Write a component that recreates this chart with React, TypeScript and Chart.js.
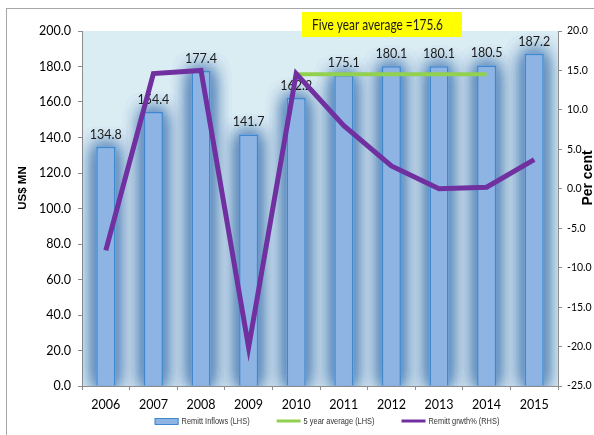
import React, { useEffect, useRef } from "react";
import { Chart, registerables } from "chart.js";

Chart.register(...registerables);

const years = ["2006", "2007", "2008", "2009", "2010", "2011", "2012", "2013", "2014", "2015"];
const remittInflows = [134.8, 154.4, 177.4, 141.7, 162.2, 175.1, 180.1, 180.1, 180.5, 187.2];
const fiveYearAverage = [null, null, null, null, 175.6, 175.6, 175.6, 175.6, 175.6, null];
const remittGrowth = [-7.8, 14.6, 15.0, -20.1, 14.6, 8.0, 2.9, 0.0, 0.2, 3.7];
const seriesNames = ["Remitt Inflows (LHS)", "5 year average (LHS)", "Remitt grwth% (RHS)"];
const leftTitle = "US$ MN";
const rightTitle = "Per cent";
const boxTitle = "Five year average =175.6";

const SANS = "'Liberation Sans', Arial, sans-serif";
const HUMAN = "Lato, 'Liberation Sans', sans-serif";

function fitText(ctx: any, text: string, x: number, y: number, targetW: number) {
  const w = ctx.measureText(text).width;
  const sx = Math.min(1, targetW / w);
  ctx.save();
  ctx.translate(x, y);
  ctx.scale(sx, 1);
  ctx.fillText(text, 0, 0);
  ctx.restore();
  return w * sx;
}

const decorPlugin = {
  id: "decor",
  beforeDraw(chart: any) {
    const { ctx, chartArea: a } = chart;
    ctx.save();
    ctx.fillStyle = "#DAEDF3";
    ctx.fillRect(a.left, a.top, a.right - a.left, a.bottom - a.top);
    ctx.restore();
  },
  beforeDatasetsDraw(chart: any) {
    const { ctx, chartArea: a } = chart;
    const meta = chart.getDatasetMeta(0);
    ctx.save();
    ctx.beginPath();
    ctx.rect(a.left, a.top, a.right - a.left, a.bottom - a.top);
    ctx.clip();
    ctx.shadowColor = "rgba(95,140,190,0.9)";
    ctx.shadowBlur = 18;
    ctx.shadowOffsetX = 0;
    ctx.shadowOffsetY = 0;
    ctx.fillStyle = "#8DB4E2";
    for (let pass = 0; pass < 4; pass++) {
      meta.data.forEach((el: any) => {
        const p = el.getProps(["x", "y", "base", "width"], true);
        ctx.fillRect(p.x - p.width / 2, p.y, p.width, p.base - p.y);
      });
    }
    ctx.restore();
  },
  afterDatasetDraw(chart: any, args: any) {
    if (args.index === 0) {
      const ctx = chart.ctx;
      ctx.save();
      ctx.fillStyle = "#1a1a1a";
      ctx.font = "12.5px " + HUMAN;
      ctx.textAlign = "center";
      ctx.textBaseline = "bottom";
      args.meta.data.forEach((el: any, i: number) => {
        ctx.fillText(remittInflows[i].toFixed(1), el.x, el.y - 6);
      });
      ctx.restore();
    }
  },
  afterDraw(chart: any) {
    const ctx = chart.ctx;
    // title box
    ctx.save();
    ctx.fillStyle = "#FFFF00";
    ctx.fillRect(302, 12, 160, 25);
    ctx.fillStyle = "#1a1a1a";
    ctx.font = "16px " + HUMAN;
    ctx.textBaseline = "middle";
    ctx.textAlign = "left";
    fitText(ctx, boxTitle, 312, 25, 131);
    ctx.restore();

    ctx.save();
    ctx.fillStyle = "#000";
    ctx.textAlign = "center";
    ctx.textBaseline = "middle";
    ctx.translate(23, 188);
    ctx.rotate(-Math.PI / 2);
    ctx.font = "bold 11.5px " + SANS;
    ctx.fillText(leftTitle, 0, 0);
    ctx.restore();

    ctx.save();
    ctx.fillStyle = "#000";
    ctx.textAlign = "center";
    ctx.textBaseline = "middle";
    ctx.translate(588, 178);
    ctx.rotate(-Math.PI / 2);
    ctx.font = "bold 14px " + SANS;
    ctx.fillText(rightTitle, 0, 0);
    ctx.restore();

    // legend
    const ds = chart.data.datasets;
    ctx.save();
    ctx.font = "9.5px " + SANS;
    ctx.textBaseline = "middle";
    ctx.textAlign = "left";
    const boxW = 24;
    const gapBox = 3;
    const gapItem = 27;
    const sx = 68 / ctx.measureText(seriesNames[0]).width;
    const widths = seriesNames.map((n) => ctx.measureText(n).width * sx);
    const total = widths.reduce((s, w) => s + w + boxW + gapBox, 0) + gapItem * (seriesNames.length - 1);
    let x = 327 - total / 2;
    const y = 421;
    seriesNames.forEach((name, i) => {
      const d = ds[i];
      if (i === 0) {
        ctx.fillStyle = d.backgroundColor;
        ctx.fillRect(x, y - 3, boxW, 6);
        ctx.strokeStyle = d.borderColor;
        ctx.lineWidth = 1;
        ctx.strokeRect(x + 0.5, y - 3 + 0.5, boxW - 1, 6);
      } else {
        ctx.strokeStyle = d.borderColor;
        ctx.lineWidth = 3;
        ctx.beginPath();
        ctx.moveTo(x, y);
        ctx.lineTo(x + boxW, y);
        ctx.stroke();
      }
      ctx.fillStyle = "#333";
      ctx.save();
      ctx.translate(x + boxW + gapBox, y + 0.5);
      ctx.scale(sx, 1);
      ctx.fillText(name, 0, 0);
      ctx.restore();
      x += boxW + gapBox + widths[i] + gapItem;
    });
    ctx.restore();
  },
};

export default function App() {
  const ref = useRef<HTMLCanvasElement | null>(null);
  useEffect(() => {
    if (!ref.current) return;
    const axisColor = "#8C8C8C";
    const chart = new Chart(ref.current, {
      type: "bar",
      data: {
        labels: years,
        datasets: [
          {
            type: "bar",
            label: seriesNames[0],
            data: remittInflows,
            backgroundColor: "#8EB4E3",
            borderColor: "#3D88CE",
            borderWidth: 1.5,
            barPercentage: 0.4,
            categoryPercentage: 1,
            yAxisID: "y",
            order: 3,
          },
          {
            type: "line",
            label: seriesNames[1],
            data: fiveYearAverage,
            borderColor: "#92D050",
            backgroundColor: "#92D050",
            borderWidth: 4,
            pointRadius: 0,
            tension: 0,
            yAxisID: "y",
            order: 2,
          },
          {
            type: "line",
            label: seriesNames[2],
            data: remittGrowth,
            borderColor: "#7030A0",
            backgroundColor: "#7030A0",
            borderWidth: 5,
            pointRadius: 0,
            tension: 0,
            yAxisID: "y1",
            order: 1,
          },
        ] as any,
      },
      options: {
        responsive: false,
        animation: false,
        devicePixelRatio: 1,
        layout: { padding: { top: 31, left: 0, right: 0, bottom: 0 } },
        plugins: {
          legend: { display: false },
          tooltip: { enabled: false },
          title: { display: false },
        },
        scales: {
          x: {
            offset: true,
            grid: { display: true, drawOnChartArea: false, offset: true, tickLength: 4, color: axisColor },
            border: { display: true, color: axisColor },
            ticks: { color: "#000", font: { family: HUMAN, size: 12.5 }, padding: 7, maxRotation: 0 },
            afterFit(scale: any) {
              scale.height = 49;
            },
          },
          y: {
            position: "left",
            min: 0,
            max: 200,
            grid: { display: true, drawOnChartArea: false, tickLength: 4, color: axisColor },
            border: { display: true, color: axisColor },
            ticks: {
              stepSize: 20,
              color: "#000",
              font: { family: HUMAN, size: 12.5 },
              padding: 7,
              callback: (v: any) => Number(v).toFixed(1),
            },
            afterFit(scale: any) {
              scale.width = 82;
            },
          },
          y1: {
            position: "right",
            min: -25,
            max: 20,
            grid: { display: true, drawOnChartArea: false, tickLength: 4, color: axisColor },
            border: { display: true, color: axisColor },
            ticks: {
              stepSize: 5,
              color: "#000",
              font: { family: HUMAN, size: 10.5 },
              padding: 5,
              callback: (v: any) => Number(v).toFixed(1),
            },
            afterFit(scale: any) {
              scale.width = 36;
            },
          },
        },
      } as any,
      plugins: [decorPlugin],
    });
    return () => chart.destroy();
  }, []);

  return (
    <div style={{ position: "fixed", left: 0, top: 0, width: 594, height: 435, background: "#fff", overflow: "hidden" }}>
      <div
        style={{
          position: "absolute",
          left: 6,
          top: 8,
          width: 640,
          height: 480,
          borderTop: "1px solid #A6A6A6",
          borderLeft: "1px solid #A6A6A6",
        }}
      />
      <canvas ref={ref} width={594} height={435} style={{ position: "absolute", left: 0, top: 0, display: "block" }} />
    </div>
  );
}
